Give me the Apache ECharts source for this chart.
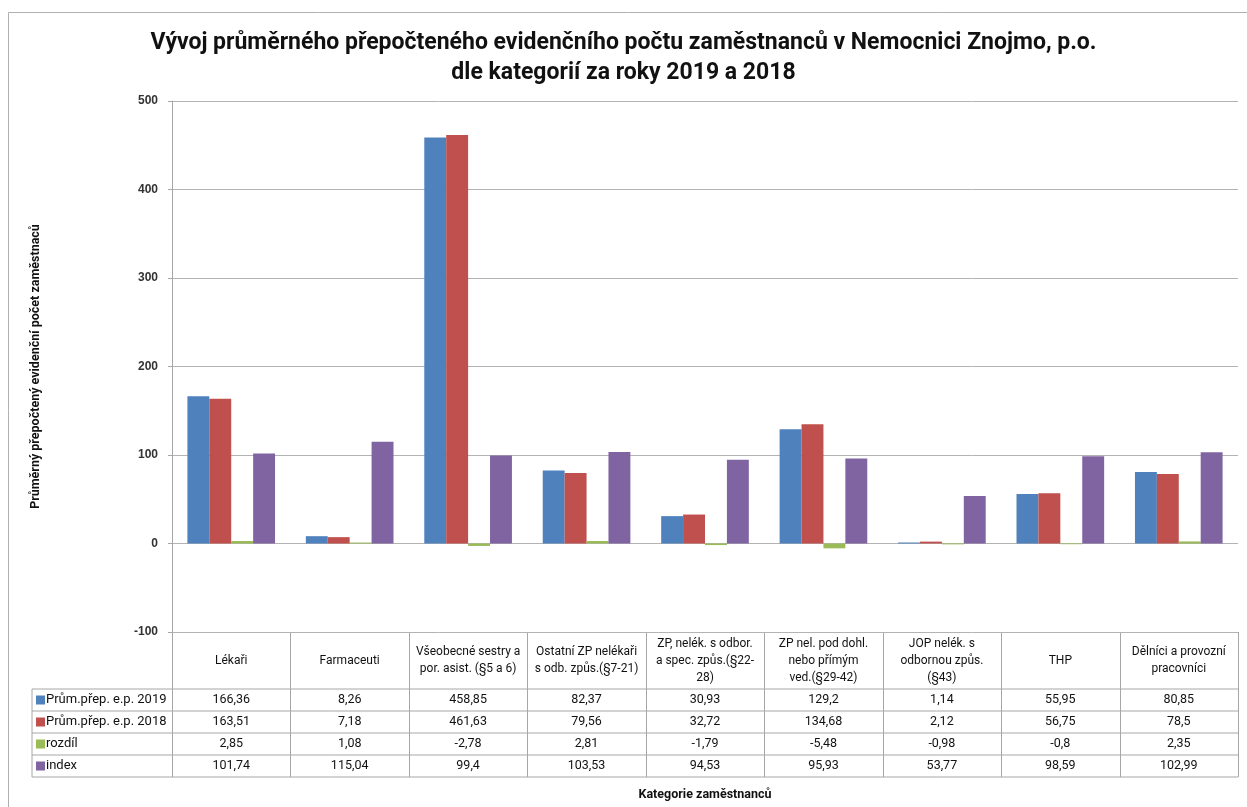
<!DOCTYPE html>
<html>
<head>
<meta charset="utf-8">
<script src="https://cdn.jsdelivr.net/npm/echarts@6/dist/echarts.min.js"></script>
<style>
html,body{margin:0;padding:0;background:#fff;}
#c{width:1247px;height:807px;}
</style>
</head>
<body>
<div id="c"></div>
<script>
// ---- data ----
var categories = [
  "Lékaři",
  "Farmaceuti",
  "Všeobecné sestry a\npor. asist. (§5 a 6)",
  "Ostatní ZP nelékaři\ns odb. způs.(§7-21)",
  "ZP, nelék. s odbor.\na spec. způs.(§22-\n28)",
  "ZP nel. pod dohl.\nnebo přímým\nved.(§29-42)",
  "JOP nelék. s\nodbornou způs.\n(§43)",
  "THP",
  "Dělníci a provozní\npracovníci"
];
var seriesNames = ["Prům.přep. e.p. 2019", "Prům.přep. e.p. 2018", "rozdíl", "index"];
var values2019 = [166.36, 8.26, 458.85, 82.37, 30.93, 129.2, 1.14, 55.95, 80.85];
var values2018 = [163.51, 7.18, 461.63, 79.56, 32.72, 134.68, 2.12, 56.75, 78.5];
var valuesDiff = [2.85, 1.08, -2.78, 2.81, -1.79, -5.48, -0.98, -0.8, 2.35];
var valuesIndex = [101.74, 115.04, 99.4, 103.53, 94.53, 95.93, 53.77, 98.59, 102.99];
var yTicks = { min: -100, max: 500, interval: 100 };

var titleText = "Vývoj průměrného přepočteného evidenčního počtu zaměstnanců v Nemocnici Znojmo, p.o.\ndle kategorií za roky 2019 a 2018";
var yAxisName = "Průměrný přepočtený evidenční počet zaměstnaců";
var xAxisName = "Kategorie zaměstnanců";

// ---- layout / style ----
var colors = ["#4F81BD", "#C0504D", "#9BBB59", "#8064A2"];
var W = 1247, H = 807;
var gLeft = 172, gRight = 1238, gTop = 101, gBottom = 632;
var headerBottom = 689, rowH = 22;
var tableLeft = 32;
var lineColor = "#a6a6a6";
var tableFont = "Roboto";

function fmt(v) { return String(v).replace('.', ','); }

var allRows = [values2019, values2018, valuesDiff, valuesIndex];

var xAxes = [{
  type: 'category',
  data: categories,
  position: 'bottom',
  axisLine: { show: false },
  axisTick: { show: false },
  splitLine: { show: false },
  axisLabel: {
    interval: 0, margin: (headerBottom - gBottom) / 2, verticalAlign: 'middle',
    fontFamily: tableFont, fontSize: 12, color: '#111', lineHeight: 17
  },
  name: xAxisName, nameLocation: 'middle', nameGap: 156,
  nameTextStyle: { fontFamily: tableFont, fontWeight: 'bold', fontSize: 12.5, color: '#111' }
}];
allRows.forEach(function (row, r) {
  xAxes.push({
    type: 'category',
    data: categories,
    position: 'bottom',
    axisLine: { show: false },
    axisTick: { show: false },
    splitLine: { show: false },
    axisLabel: {
      interval: 0,
      margin: headerBottom - gBottom + rowH * r + rowH / 2,
      verticalAlign: 'middle',
      fontFamily: tableFont, fontSize: 12.5, color: '#111',
      formatter: function (v, i) { return fmt(row[i]); }
    }
  });
});

// table lines
var graphics = [];
function hline(x1, x2, y) {
  graphics.push({ type: 'line', shape: { x1: x1, y1: y, x2: x2, y2: y }, style: { stroke: lineColor, lineWidth: 1 }, silent: true });
}
function vline(x, y1, y2) {
  graphics.push({ type: 'line', shape: { x1: x, y1: y1, x2: x, y2: y2 }, style: { stroke: lineColor, lineWidth: 1 }, silent: true });
}
var tableBottom = headerBottom + rowH * 4;
for (var r = 0; r <= 4; r++) hline(tableLeft, gRight, headerBottom + r * rowH);
vline(tableLeft, headerBottom, tableBottom);
var colW = (gRight - gLeft) / categories.length;
for (var k = 0; k <= categories.length; k++) vline(Math.round(gLeft + k * colW) + 0.5, gBottom, tableBottom);
// outer frame
graphics.push({ type: 'rect', shape: { x: 8.5, y: 12.5, width: 1300, height: 900 }, style: { fill: 'none', stroke: '#b0b0b0', lineWidth: 1 }, silent: true });

var series = [values2019, values2018, valuesDiff, valuesIndex].map(function (d, i) {
  return {
    name: seriesNames[i], type: 'bar', data: d,
    barGap: '0%', barCategoryGap: '26%',
    itemStyle: { color: colors[i] },
    xAxisIndex: 0, yAxisIndex: 0
  };
});

var option = {
  animation: false,
  backgroundColor: '#fff',
  color: colors,
  title: {
    text: titleText, left: 'center', top: 23,
    textStyle: { fontFamily: 'Roboto', fontWeight: 'bold', fontSize: 23, color: '#111', lineHeight: 30 }
  },
  legend: {
    orient: 'vertical', left: 36, top: headerBottom, padding: 0, itemGap: 0,
    icon: 'rect', itemWidth: 9, itemHeight: 9,
    data: seriesNames,
    textStyle: { fontFamily: tableFont, fontSize: 13, color: '#111', lineHeight: rowH, height: rowH, padding: [0, 0, 0, -4] }
  },
  grid: { left: gLeft, right: W - gRight, top: gTop, bottom: H - gBottom, containLabel: false },
  xAxis: xAxes,
  yAxis: {
    type: 'value', min: yTicks.min, max: yTicks.max, interval: yTicks.interval,
    axisLine: { show: true, lineStyle: { color: lineColor } },
    axisTick: { show: true, length: 4, lineStyle: { color: lineColor } },
    splitLine: { show: true, lineStyle: { color: '#b3b3b3' } },
    axisLabel: { margin: 14, fontFamily: 'Liberation Sans', fontWeight: 'bold', fontSize: 12, color: '#333' },
    name: yAxisName, nameLocation: 'middle', nameGap: 130, nameRotate: 90,
    nameTextStyle: { fontFamily: tableFont, fontWeight: 'bold', fontSize: 12.5, color: '#111' }
  },
  graphic: graphics,
  series: series
};

var chart = echarts.init(document.getElementById('c'), null, { renderer: 'canvas' });
chart.setOption(option);
</script>
</body>
</html>
